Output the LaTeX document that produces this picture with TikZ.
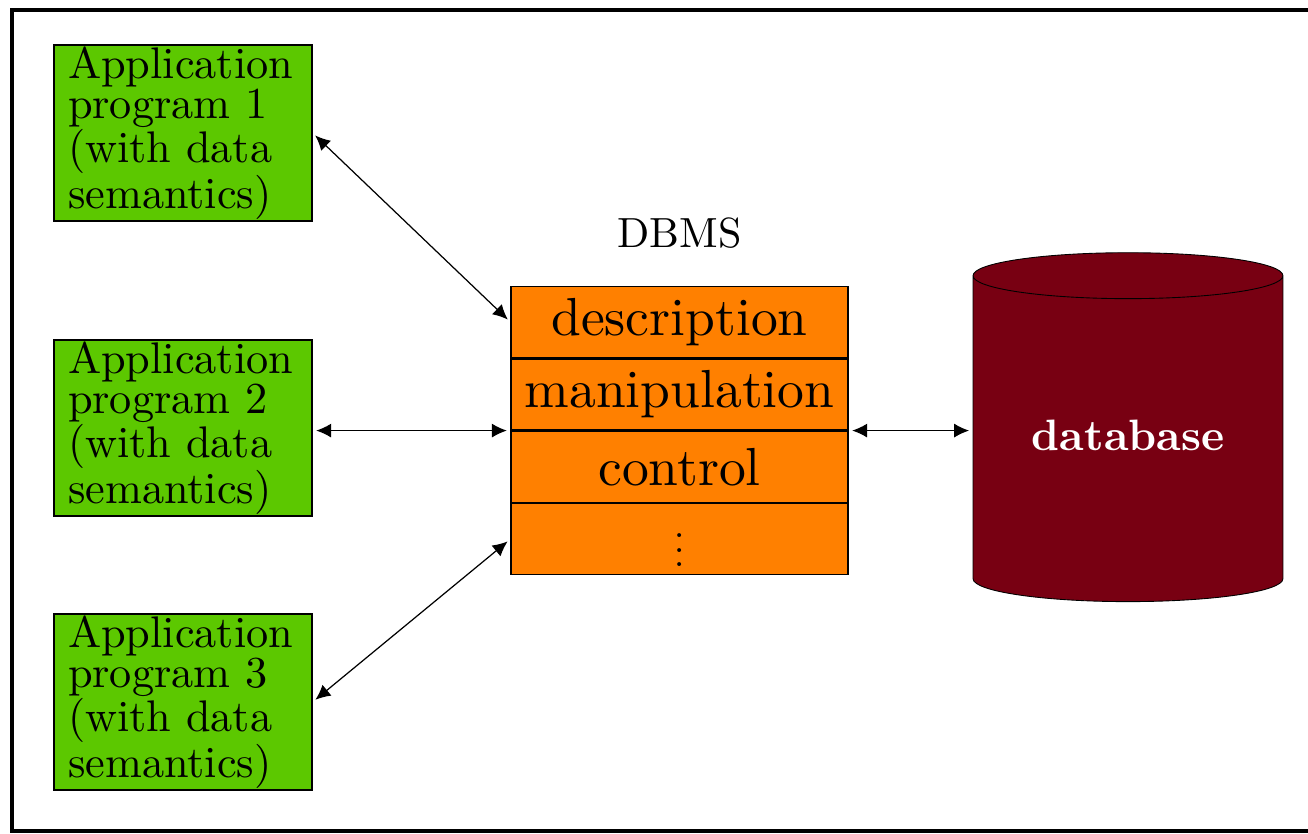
\documentclass[tikz,border=0pt]{standalone}
\usepackage{fontspec}
\setmainfont{lmroman10-regular}[Extension=.otf,BoldFont=lmroman10-bold]
\usepackage{tikz}
\usetikzlibrary{positioning,shapes.geometric,arrows.meta}

\definecolor{appgreen}{RGB}{92,200,0}
\definecolor{dbmsorange}{RGB}{255,128,0}
\definecolor{dbred}{RGB}{120,0,18}

\tikzset{
  appbox/.style={draw,fill=appgreen,line width=0.8pt,minimum width=5.16cm,minimum height=3.52cm,
    text width=4.6cm,align=left,inner sep=0pt,font=\fontsize{25.2}{21.6}\selectfont},
  dbmsrow/.style={draw,fill=dbmsorange,line width=0.8pt,minimum width=6.74cm,minimum height=1.42cm,
    inner sep=0pt,font=\fontsize{30.5}{37}\selectfont},
  link/.style={{Latex[length=8.5pt,width=8pt]}-{Latex[length=8.5pt,width=8pt]},line width=0.7pt,shorten <=2pt,shorten >=2pt}
}

\begin{document}
\begin{tikzpicture}[x=0.02cm,y=-0.02cm]
  \useasboundingbox (0,0) rectangle (1308,834);
  \draw[line width=2.3pt] (1310,10) -- (12,10) -- (12,831) -- (1310,831);

  % application programs
  \node[appbox] (app1) at (183,133) {Application\\program 1\\(with data\\semantics)};
  \node[appbox] (app2) at (183,428) {Application\\program 2\\(with data\\semantics)};
  \node[appbox] (app3) at (183,702) {Application\\program 3\\(with data\\semantics)};

  % DBMS stack
  \node[dbmsrow] (desc) at (679.5,322) {description};
  \node[dbmsrow,below=0pt of desc] (manip) {manipulation};
  \node[dbmsrow,below=0pt of manip] (ctrl) {control};
  \node[dbmsrow,below=0pt of ctrl,font=\normalsize] (dots) {\scalebox{2.1}{$\vdots$}};
  \node[above=0.62cm of desc,font=\fontsize{24}{21.6}\selectfont] (dbmslabel) {DBMS};

  % database
  \node[cylinder,shape border rotate=90,draw,fill=dbred,line width=0.5pt,aspect=0.225,
    minimum width=6.2cm,minimum height=6.98cm,text=white,
    font=\bfseries\fontsize{25}{28}\selectfont] (db) at (1128,442) {\raisebox{0.28cm}{database}};

  \draw[link] (app1.east) -- (desc.west);
  \draw[link] (manip.south west -| app2.east) -- (manip.south west);
  \draw[link] (app3.east) -- (dots.west);
  \draw[link] (manip.south east) -- (manip.south east -| db.west);
\end{tikzpicture}
\end{document}
